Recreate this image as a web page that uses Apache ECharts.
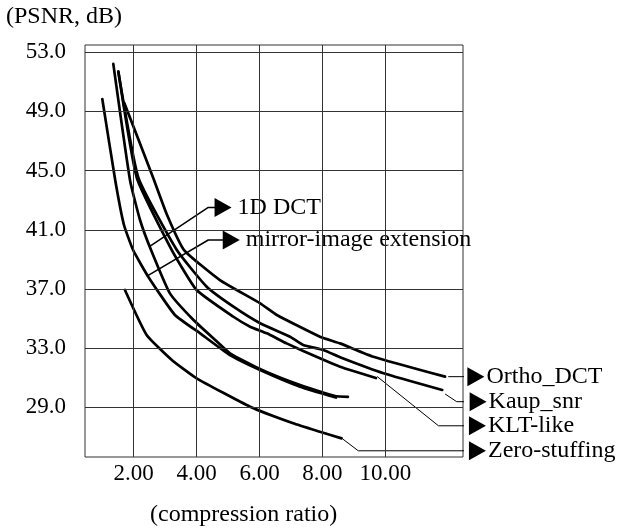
<!DOCTYPE html>
<html>
<head>
<meta charset="utf-8">
<title>PSNR vs compression ratio</title>
<script src="https://cdn.jsdelivr.net/npm/echarts@6/dist/echarts.min.js"></script>
<style>
  html, body { margin: 0; padding: 0; background: #fff; }
  #chart { width: 634px; height: 529px; }
</style>
</head>
<body>
<div id="chart"></div>
<script>
// [compression ratio, PSNR in dB]
const orthoDct = [[1.70, 49.57], [2.62, 44.50], [3.06, 42.00], [3.60, 39.63], [4.74, 37.60], [6.02, 36.03], [6.55, 35.24], [7.92, 33.77], [8.56, 33.32], [9.62, 32.42], [11.90, 31.07]]
const kaupSnr = [[1.51, 51.69], [2.15, 44.50], [3.37, 39.63], [4.32, 37.15], [5.17, 35.80], [6.02, 34.68], [6.97, 33.77], [7.39, 33.21], [8.03, 32.87], [8.56, 32.38], [9.94, 31.30], [11.81, 30.17]]
const kltLike = [[1.51, 51.69], [2.10, 44.50], [3.21, 39.63], [4.00, 36.93], [5.17, 35.12], [5.70, 34.45], [6.23, 34.00], [6.86, 33.32], [7.92, 32.31], [8.56, 31.74], [9.70, 30.98]]
const dct1d = [[1.35, 52.21], [1.88, 44.37], [2.20, 41.66], [2.55, 39.63], [3.15, 36.70], [3.90, 34.90], [4.59, 33.55], [5.06, 32.65], [6.08, 31.52], [7.29, 30.50], [8.40, 29.76], [8.81, 29.71]]
const mirrorExt = [[1.00, 49.84], [1.41, 44.37], [1.69, 41.32], [1.98, 39.63], [2.46, 37.83], [3.31, 35.24], [4.11, 34.00], [5.06, 32.53], [6.02, 31.52], [7.29, 30.39], [8.43, 29.66]]
const zeroStuffing = [[1.72, 36.93], [2.41, 33.89], [3.21, 32.20], [4.00, 30.96], [5.70, 29.04], [7.07, 27.92], [7.92, 27.35], [8.61, 26.90]]

// leader lines from a curve to its label (same units)
const orthoLeader = [[12.00, 31.07], [12.88, 31.07]]
const kaupLeader = [[11.90, 29.90], [12.27, 29.38], [12.95, 29.38]]
const kltLeader = [[9.74, 31.08], [11.69, 27.75], [12.93, 27.75]]
const zeroLeader = [[8.65, 26.85], [9.14, 26.06], [12.93, 26.06]]
const dctLeader = [[2.52, 39.90], [4.37, 42.51], [4.84, 42.51]]
const mirrorLeader = [[2.42, 37.87], [4.37, 40.31], [5.10, 40.31]]

const xTicks = [2, 4, 6, 8, 10]
const yTicks = [29, 33, 37, 41, 45, 49, 53]

const FONT = "'Liberation Serif', 'Times New Roman', serif"
const textStyle = { color: '#000', fontFamily: FONT, fontSize: 24, fontWeight: 'normal' }
const tickStyle = { color: '#000', fontFamily: FONT, fontSize: 23 }

function curve(name, data) {
  return {
    name: name,
    type: 'line',
    data: data,
    symbol: 'none',
    smooth: 0.15,
    silent: true,
    z: 3,
    lineStyle: { color: '#000', width: 2.7, join: 'round', cap: 'round' }
  }
}

function leader(name, pts, width, dist) {
  const last = pts.length - 1
  return {
    name: name + ' leader',
    type: 'line',
    clip: false,
    silent: true,
    z: 4,
    showSymbol: true,
    data: pts.map((p, i) => {
      if (i !== last) return { value: p, symbol: 'none' }
      return {
        value: p,
        symbol: 'triangle',
        symbolSize: [19, 17],
        symbolRotate: -90,
        label: Object.assign({ show: true, position: 'right', distance: dist, formatter: name }, textStyle)
      }
    }),
    lineStyle: { color: '#000', width: width },
    itemStyle: { color: '#000' }
  }
}

const chart = echarts.init(document.getElementById('chart'), null, { renderer: 'canvas' })

chart.setOption({
  animation: false,
  backgroundColor: '#fff',
  title: [
    { text: '(PSNR, dB)', left: 6, top: 5, padding: 0, textStyle: textStyle },
    { text: '(compression ratio)', left: 150, top: 503, padding: 0, textStyle: textStyle }
  ],
  grid: {
    left: 85,
    top: 45,
    right: 171,
    bottom: 72,
    show: true,
    borderColor: '#333',
    borderWidth: 1,
    outerBoundsMode: 'none'
  },
  xAxis: {
    type: 'value',
    min: 0.45,
    max: 12.47,
    axisLine: { show: false },
    axisTick: { show: false },
    splitLine: { show: false },
    axisLabel: Object.assign({ customValues: xTicks, margin: 5, formatter: v => v.toFixed(2) }, tickStyle)
  },
  yAxis: {
    type: 'value',
    min: 25.64,
    max: 53.49,
    axisLine: { show: false },
    axisTick: { show: false },
    splitLine: { show: false },
    axisLabel: Object.assign({ customValues: yTicks, margin: 19, formatter: v => v.toFixed(1) }, tickStyle)
  },
  series: [
    {
      name: 'grid lines',
      type: 'line',
      data: [],
      silent: true,
      z: 1,
      markLine: {
        silent: true,
        symbol: ['none', 'none'],
        label: { show: false },
        lineStyle: { color: '#333', width: 1, type: 'solid' },
        data: xTicks.map(v => ({ xAxis: v })).concat(yTicks.map(v => ({ yAxis: v })))
      }
    },
    curve('Ortho_DCT', orthoDct),
    curve('Kaup_snr', kaupSnr),
    curve('KLT-like', kltLike),
    curve('1D DCT', dct1d),
    curve('mirror-image extension', mirrorExt),
    curve('Zero-stuffing', zeroStuffing),
    leader('Ortho_DCT', orthoLeader, 1, 2),
    leader('Kaup_snr', kaupLeader, 1, 2),
    leader('KLT-like', kltLeader, 1, 2),
    leader('Zero-stuffing', zeroLeader, 1, 2),
    leader('1D DCT', dctLeader, 1.5, 6),
    leader('mirror-image extension', mirrorLeader, 1.5, 6)
  ]
})
</script>
</body>
</html>
